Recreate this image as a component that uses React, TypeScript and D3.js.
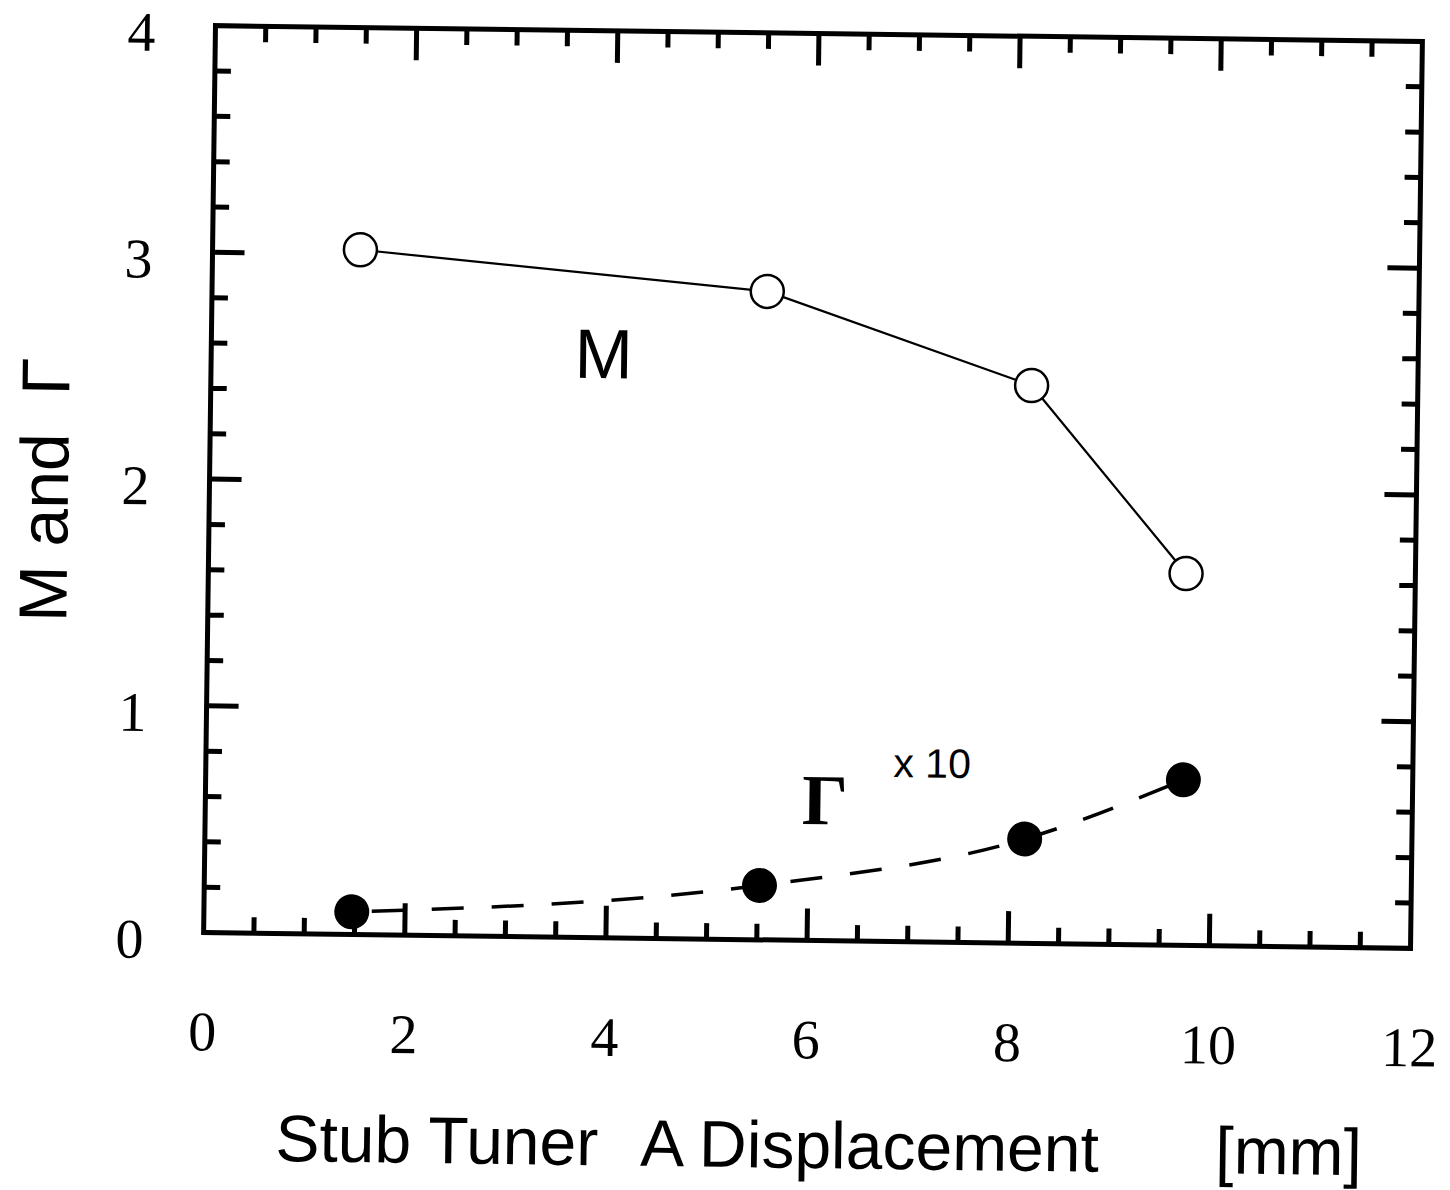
import React, { useRef, useEffect } from 'react';
import * as d3 from 'd3';

// tick values
const xTicks = [0, 2, 4, 6, 8, 10, 12];
const yTicks = [0, 1, 2, 3, 4];

// M series (open circles, solid line)
const mX = [1.47, 5.52, 8.16, 9.72];
const mY = [3.02, 2.86, 2.46, 1.64];

// Gamma x10 series (filled circles, dashed curve)
const gX = [1.47, 5.52, 8.15, 9.72];
const gY = [0.1, 0.24, 0.46, 0.73];

const W = 1450;
const H = 1190;

const App = () => {
  const svgRef = useRef<SVGSVGElement>(null);

  useEffect(() => {
    const svg = d3.select(svgRef.current);
    svg.selectAll('*').remove();

    const left = 209.5, right = 1416.5, top = 33.5, bottom = 940.5;
    const serif = '"Liberation Serif", "Times New Roman", serif';
    const sans = '"Liberation Sans", Arial, sans-serif';

    const x = d3.scaleLinear().domain([0, 12]).range([left, right]);
    const y = d3.scaleLinear().domain([0, 4]).range([bottom, top]);

    // the scan is tilted a little clockwise
    const g = svg.append('g').attr('transform', 'rotate(0.75, 813, 487)');

    // ticks on all four sides, pointing inwards
    const xMinor = d3.range(0.5, 12, 0.5);
    const yMinor = d3.range(0.2, 4, 0.2);
    const isMajX = (v: number) => Math.abs(v / 2 - Math.round(v / 2)) < 1e-6;
    const isMajY = (v: number) => Math.abs(v - Math.round(v)) < 1e-6;

    const tickG = g.append('g').attr('stroke', '#000').attr('stroke-width', 5);
    xMinor.forEach(v => {
      const len = isMajX(v) ? 32 : 16;
      tickG.append('line').attr('x1', x(v)).attr('x2', x(v)).attr('y1', bottom).attr('y2', bottom - len);
      tickG.append('line').attr('x1', x(v)).attr('x2', x(v)).attr('y1', top).attr('y2', top + len);
    });
    yMinor.forEach(v => {
      const len = isMajY(v) ? 32 : 16;
      tickG.append('line').attr('x1', left).attr('x2', left + len).attr('y1', y(v)).attr('y2', y(v));
      tickG.append('line').attr('x1', right).attr('x2', right - len).attr('y1', y(v)).attr('y2', y(v));
    });

    g.append('rect')
      .attr('x', left).attr('y', top)
      .attr('width', right - left).attr('height', bottom - top)
      .attr('fill', 'none').attr('stroke', '#000').attr('stroke-width', 5);

    // tick labels
    g.selectAll('.xl').data(xTicks).enter().append('text')
      .attr('x', d => x(d)).attr('y', bottom + 118)
      .attr('text-anchor', 'middle')
      .attr('font-family', serif).attr('font-size', 56)
      .text(d => d);

    g.selectAll('.yl').data(yTicks).enter().append('text')
      .attr('x', left - 74).attr('y', d => y(d) + 26)
      .attr('text-anchor', 'middle')
      .attr('font-family', serif).attr('font-size', 56)
      .text(d => d);

    // M line + open circles
    const mPts: [number, number][] = mX.map((v, i) => [v, mY[i]]);
    const line = d3.line<[number, number]>().x(d => x(d[0])).y(d => y(d[1]));
    g.append('path').attr('d', line(mPts) as string)
      .attr('fill', 'none').attr('stroke', '#000').attr('stroke-width', 2.2);
    g.selectAll('.mc').data(mPts).enter().append('circle')
      .attr('cx', d => x(d[0])).attr('cy', d => y(d[1])).attr('r', 16.5)
      .attr('fill', '#fff').attr('stroke', '#000').attr('stroke-width', 2.5);

    // Gamma dashed curve + filled circles
    const gPts: [number, number][] = gX.map((v, i) => [v, gY[i]]);
    const curve = d3.line<[number, number]>().x(d => x(d[0])).y(d => y(d[1])).curve(d3.curveMonotoneX);
    g.append('path').attr('d', curve(gPts) as string)
      .attr('fill', 'none').attr('stroke', '#000').attr('stroke-width', 3.5)
      .attr('stroke-dasharray', '32 28').attr('stroke-dashoffset', -20);
    g.selectAll('.gc').data(gPts).enter().append('circle')
      .attr('cx', d => x(d[0])).attr('cy', d => y(d[1])).attr('r', 17.5)
      .attr('fill', '#000');

    // in-plot labels
    g.append('text').attr('x', 602).attr('y', 381).attr('text-anchor', 'middle')
      .attr('font-family', sans).attr('font-size', 70).text('M');
    g.append('text').attr('x', 829).attr('y', 824).attr('text-anchor', 'middle')
      .attr('font-family', serif).attr('font-size', 72).attr('font-weight', 600)
      .text('Γ');
    g.append('text').attr('x', 897).attr('y', 776)
      .attr('font-family', sans).attr('font-size', 41).text('x 10');

    // axis titles
    g.append('text').attr('x', 284).attr('y', 1168)
      .attr('font-family', sans).attr('font-size', 66).text('Stub Tuner');
    g.append('text').attr('x', 649).attr('y', 1168)
      .attr('font-family', sans).attr('font-size', 66).text('A Displacement');
    g.append('text').attr('x', 1224).attr('y', 1168)
      .attr('font-family', sans).attr('font-size', 66).text('[mm]');

    const yt = g.append('text')
      .attr('transform', 'translate(68, 500) rotate(-90)')
      .attr('text-anchor', 'middle')
      .attr('font-family', sans).attr('font-size', 68)
      .style('white-space', 'pre');
    yt.append('tspan').text('M and  ');
    yt.append('tspan').text('Γ');
  }, []);

  return (
    <svg
      ref={svgRef}
      width={W}
      height={H}
      style={{ position: 'absolute', left: 0, top: 0, background: '#fff' }}
    />
  );
};

export default App;
